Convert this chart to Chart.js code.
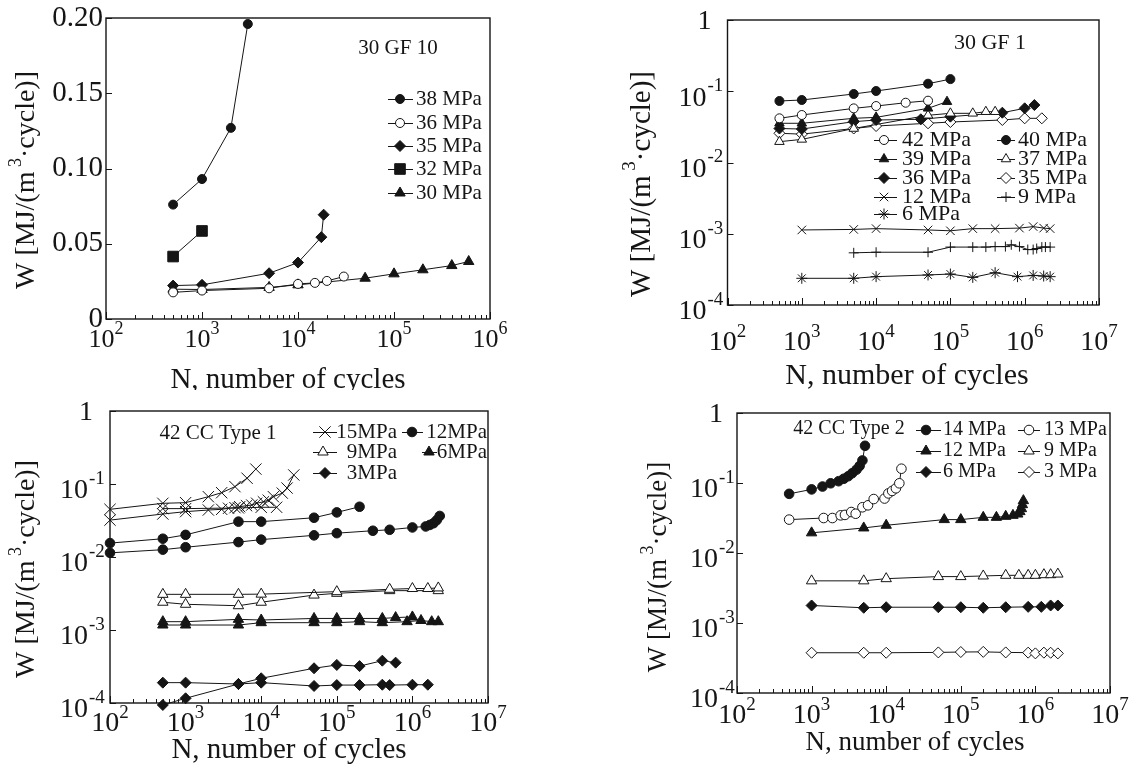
<!DOCTYPE html>
<html>
<head>
<meta charset="utf-8">
<title>Hysteresis energy vs cycles</title>
<script src="https://cdn.jsdelivr.net/npm/chart.js@4.4.1/dist/chart.umd.min.js"></script>
<style>
  html, body { margin: 0; padding: 0; background: #fff; }
  #wrap { position: relative; width: 1132px; height: 775px; overflow: hidden; }
  #wrap canvas { position: absolute; }
</style>
</head>
<body>
<div id="wrap">
  <canvas id="gf10" width="566" height="390" style="left:0;top:0"></canvas>
  <canvas id="gf1" width="566" height="390" style="left:566px;top:0"></canvas>
  <canvas id="cc1" width="566" height="385" style="left:0;top:390px"></canvas>
  <canvas id="cc2" width="566" height="385" style="left:566px;top:390px"></canvas>
</div>
<script>
const SERIF = '"Liberation Serif", "Times New Roman", serif';
const INK = '#151515';

// tick labels
const gf10YTicks = [0, 0.05, 0.10, 0.15, 0.20];
const gf10YText = ['0', '0.05', '0.10', '0.15', '0.20'];
const gf10XExp = [2, 3, 4, 5, 6];
const logXExp = [2, 3, 4, 5, 6, 7];
const logYExp = [0, -1, -2, -3, -4];

// ---- 30 GF 10 ----
const gf10_N38 = [500, 1000, 2000, 3000];
const gf10_W38 = [0.076, 0.093, 0.127, 0.196];
const gf10_N36 = [500, 1000, 5000, 10000, 15000, 20000, 30000];
const gf10_W36 = [0.0177, 0.0189, 0.0204, 0.0233, 0.024, 0.0253, 0.0282];
const gf10_N35 = [500, 1000, 5000, 10000, 17500, 18500];
const gf10_W35 = [0.0222, 0.0227, 0.0304, 0.0375, 0.0544, 0.0693];
const gf10_N32 = [500, 1000];
const gf10_W32 = [0.0415, 0.0585];
const gf10_N30 = [500, 1000, 5000, 10000, 50000, 100000, 200000, 400000, 600000];
const gf10_W30 = [0.0198, 0.0196, 0.021, 0.0227, 0.0271, 0.030, 0.0327, 0.0355, 0.0382];

// ---- 30 GF 1 ----
const gf1_N42 = [500, 1000, 5000, 10000, 25000, 50000];
const gf1_W42 = [0.0417, 0.0464, 0.0575, 0.062, 0.069, 0.0737];
const gf1_N40 = [500, 1000, 5000, 10000, 50000, 100000];
const gf1_W40 = [0.073, 0.0754, 0.0915, 0.1008, 0.1276, 0.148];
const gf1_N39 = [500, 1000, 5000, 10000, 50000, 90000];
const gf1_W39 = [0.0355, 0.0355, 0.0417, 0.043, 0.0576, 0.0714];
const gf1_N37 = [500, 1000, 5000, 50000, 100000, 200000, 300000, 400000];
const gf1_W37 = [0.0196, 0.0211, 0.030, 0.046, 0.049, 0.049, 0.0516, 0.0516];
const gf1_N36 = [500, 1000, 5000, 10000, 40000, 100000, 500000, 1000000, 1350000];
const gf1_W36 = [0.030, 0.0295, 0.0374, 0.0395, 0.0404, 0.044, 0.050, 0.0576, 0.064];
const gf1_N35 = [500, 1000, 5000, 10000, 50000, 100000, 500000, 1000000, 1700000];
const gf1_W35 = [0.0257, 0.025, 0.030, 0.0325, 0.0355, 0.037, 0.0395, 0.0417, 0.0417];
const gf1_N12 = [1000, 5000, 10000, 50000, 100000, 200000, 400000, 850000, 1300000, 1800000, 2200000];
const gf1_W12 = [0.00113, 0.00115, 0.00118, 0.00113, 0.0011, 0.00118, 0.00118, 0.0012, 0.00126, 0.0012, 0.00118];
const gf1_N9 = [5000, 10000, 50000, 100000, 200000, 300000, 400000, 550000, 660000, 850000, 1100000, 1300000, 1450000, 1700000, 1900000, 2200000];
const gf1_W9 = [0.00054, 0.00055, 0.00055, 0.00065, 0.00065, 0.00065, 0.00066, 0.00066, 0.0007, 0.00066, 0.0006, 0.0006, 0.00062, 0.00065, 0.00065, 0.00065];
const gf1_N6 = [1000, 5000, 10000, 50000, 100000, 200000, 400000, 800000, 1300000, 1800000, 2200000];
const gf1_W6 = [0.000237, 0.000237, 0.00025, 0.000264, 0.000272, 0.000244, 0.000284, 0.00025, 0.00026, 0.000255, 0.00025];

// ---- 42 CC Type 1 (two or three specimens per stress level) ----
const cc1_N15a = [100, 500, 1000, 2000, 3000, 4500, 6500, 8500];
const cc1_W15a = [0.045, 0.0544, 0.0555, 0.067, 0.076, 0.092, 0.12, 0.16];
const cc1_N15b = [100, 500, 1000, 2000, 3000, 3700, 4500, 5200, 6400, 7500, 8700, 10700, 12400, 14500, 19000, 22000, 27000];
const cc1_W15b = [0.032, 0.0388, 0.0418, 0.044, 0.045, 0.0465, 0.0474, 0.0489, 0.0505, 0.0515, 0.0545, 0.057, 0.06, 0.067, 0.075, 0.088, 0.133];
const cc1_N15c = [500, 1000, 5000, 10000, 16000];
const cc1_W15c = [0.046, 0.046, 0.047, 0.048, 0.048];
const cc1_N12a = [100, 500, 1000, 5000, 10000, 50000, 100000, 200000];
const cc1_W12a = [0.0155, 0.0178, 0.0201, 0.0305, 0.0305, 0.0345, 0.0408, 0.0488];
const cc1_N12b = [100, 500, 1000, 5000, 10000, 50000, 100000, 300000, 500000, 1000000, 1500000, 1700000, 1900000, 2100000, 2300000];
const cc1_W12b = [0.0114, 0.0126, 0.0136, 0.016, 0.0173, 0.0198, 0.0212, 0.0229, 0.0236, 0.0254, 0.0262, 0.0275, 0.029, 0.032, 0.0365];
const cc1_N9a = [500, 1000, 5000, 10000, 100000, 500000, 1000000, 1600000, 2200000];
const cc1_W9a = [0.00308, 0.00308, 0.00308, 0.0031, 0.00335, 0.00361, 0.0037, 0.0037, 0.00377];
const cc1_N9b = [500, 1000, 5000, 10000, 50000, 100000, 500000, 2200000];
const cc1_W9b = [0.0024, 0.00225, 0.00215, 0.0024, 0.00301, 0.00318, 0.00346, 0.00346];
const cc1_N6a = [500, 1000, 5000, 10000, 50000, 100000, 200000, 400000, 600000, 1000000];
const cc1_W6a = [0.0013, 0.0013, 0.0014, 0.00137, 0.00144, 0.00144, 0.00144, 0.00144, 0.00148, 0.00151];
const cc1_N6b = [500, 1000, 5000, 10000, 50000, 100000, 200000, 400000, 850000, 1300000, 1800000, 2200000];
const cc1_W6b = [0.00117, 0.00117, 0.00117, 0.00126, 0.00126, 0.00126, 0.0013, 0.00126, 0.0013, 0.00135, 0.0013, 0.0013];
const cc1_N3a = [500, 1000, 5000, 10000, 50000, 100000, 200000, 400000, 500000, 1000000, 1600000];
const cc1_W3a = [0.00019, 0.00019, 0.000182, 0.00019, 0.000171, 0.000176, 0.000176, 0.000178, 0.000176, 0.000178, 0.000178];
const cc1_N3b = [500, 1000, 5000, 10000, 50000, 100000, 200000, 400000, 600000];
const cc1_W3b = [0.000094, 0.000116, 0.000182, 0.000218, 0.000299, 0.000332, 0.00032, 0.00038, 0.000357];

// ---- 42 CC Type 2 ----
const cc2_N14 = [500, 1000, 1400, 1800, 2300, 2700, 3100, 3500, 4000, 4400, 4800, 5200];
const cc2_W14 = [0.07, 0.081, 0.089, 0.099, 0.106, 0.115, 0.125, 0.138, 0.155, 0.175, 0.21, 0.34];
const cc2_N13 = [500, 1450, 1900, 2450, 2800, 3400, 3900, 4800, 5700, 6800, 9500, 10700, 12000, 13500, 15000, 16000];
const cc2_W13 = [0.030, 0.0316, 0.0316, 0.0345, 0.035, 0.0385, 0.0364, 0.045, 0.048, 0.059, 0.06, 0.071, 0.077, 0.084, 0.099, 0.16];
const cc2_N12 = [1000, 5000, 10000, 60000, 100000, 200000, 300000, 400000, 500000, 580000, 620000, 650000, 670000, 690000];
const cc2_W12 = [0.0194, 0.0228, 0.0249, 0.030, 0.030, 0.0323, 0.0323, 0.0334, 0.0345, 0.036, 0.039, 0.043, 0.049, 0.056];
const cc2_N9 = [1000, 5000, 10000, 50000, 100000, 200000, 400000, 600000, 800000, 1000000, 1300000, 1600000, 2000000];
const cc2_W9 = [0.0040, 0.0040, 0.0043, 0.0046, 0.0046, 0.0047, 0.0048, 0.0048, 0.0048, 0.0048, 0.0049, 0.0049, 0.0050];
const cc2_N6 = [1000, 5000, 10000, 50000, 100000, 200000, 400000, 800000, 1200000, 1600000, 2000000];
const cc2_W6 = [0.00178, 0.00165, 0.00168, 0.00168, 0.00168, 0.00165, 0.00168, 0.0017, 0.0017, 0.00178, 0.00178];
const cc2_N3 = [1000, 5000, 10000, 50000, 100000, 200000, 400000, 800000, 1000000, 1300000, 1600000, 2000000];
const cc2_W3 = [0.000376, 0.000376, 0.000376, 0.00038, 0.000385, 0.000387, 0.00038, 0.000377, 0.000368, 0.000377, 0.000376, 0.000368];

const ser = (label, N, W, style, fill, r) => ({ label, N, W, style, fill, r });

const panels = [
  {
    id: 'gf10', left: 0, top: 0, w: 566, h: 390, box: [106, 18, 490, 319],
    xMin: 1e2, xMax: 1e6, xExp: gf10XExp, xLabSize: 26, xLabDy: 21,
    yType: 'linear', yMin: 0, yMax: 0.2,
    xTitle: [288, 380, 29], yTitle: [27, 180, 28], note: ['30 GF 10', 398, 48, 21],
    series: [
      ser('38 MPa', gf10_N38, gf10_W38, 'circle', true, 4.5),
      ser('36 MPa', gf10_N36, gf10_W36, 'circle', false, 4.5),
      ser('35 MPa', gf10_N35, gf10_W35, 'rectRot', true, 5.5),
      ser('32 MPa', gf10_N32, gf10_W32, 'rect', true, 7.5),
      ser('30 MPa', gf10_N30, gf10_W30, 'triangle', true, 6)
    ],
    legendSize: 21,
    legend: [
      { i: 0, y: 99, mx: 400, l1: 388, l2: 413, tx: 416, al: 'left' },
      { i: 1, y: 123, mx: 400, l1: 388, l2: 413, tx: 416, al: 'left' },
      { i: 2, y: 146, mx: 400, l1: 388, l2: 413, tx: 416, al: 'left' },
      { i: 3, y: 169, mx: 400, l1: 388, l2: 413, tx: 416, al: 'left' },
      { i: 4, y: 193, mx: 400, l1: 388, l2: 413, tx: 416, al: 'left' }
    ]
  },
  {
    id: 'gf1', left: 566, top: 0, w: 566, h: 390, box: [727.5, 20, 1099, 305],
    xMin: 1e2, xMax: 1e7, xExp: logXExp, xLabSize: 28, xLabDy: 38,
    yType: 'logarithmic', yMin: 1e-4, yMax: 1, yGap: 21,
    xTitle: [907, 376, 30], yTitle: [642, 184, 29], note: ['30 GF 1', 990, 43, 22],
    series: [
      ser('42 MPa', gf1_N42, gf1_W42, 'circle', false, 4.5),
      ser('40 MPa', gf1_N40, gf1_W40, 'circle', true, 4.5),
      ser('39 MPa', gf1_N39, gf1_W39, 'triangle', true, 5.5),
      ser('37 MPa', gf1_N37, gf1_W37, 'triangle', false, 5.5),
      ser('36 MPa', gf1_N36, gf1_W36, 'rectRot', true, 5.5),
      ser('35 MPa', gf1_N35, gf1_W35, 'rectRot', false, 5.5),
      ser('12 MPa', gf1_N12, gf1_W12, 'crossRot', false, 6),
      ser('9 MPa', gf1_N9, gf1_W9, 'cross', false, 5),
      ser('6 MPa', gf1_N6, gf1_W6, 'star', false, 5.5)
    ],
    legendSize: 22,
    legend: [
      { i: 0, y: 140, mx: 884, l1: 874, l2: 897, tx: 902, al: 'left' },
      { i: 2, y: 159, mx: 884, l1: 874, l2: 897, tx: 902, al: 'left' },
      { i: 4, y: 178, mx: 884, l1: 874, l2: 897, tx: 902, al: 'left' },
      { i: 6, y: 197, mx: 884, l1: 874, l2: 897, tx: 902, al: 'left' },
      { i: 8, y: 214, mx: 884, l1: 874, l2: 897, tx: 902, al: 'left' },
      { i: 1, y: 140, mx: 1006, l1: 997, l2: 1015, tx: 1018, al: 'left' },
      { i: 3, y: 159, mx: 1006, l1: 997, l2: 1015, tx: 1018, al: 'left' },
      { i: 5, y: 178, mx: 1006, l1: 997, l2: 1015, tx: 1018, al: 'left' },
      { i: 7, y: 197, mx: 1006, l1: 997, l2: 1015, tx: 1018, al: 'left' }
    ]
  },
  {
    id: 'cc1', left: 0, top: 390, w: 566, h: 385, box: [110, 411, 488, 703],
    xMin: 1e2, xMax: 1e7, xExp: logXExp, xLabSize: 28, xLabDy: 21,
    yType: 'logarithmic', yMin: 1e-4, yMax: 1, yGap: 22,
    xTitle: [289, 750, 29], yTitle: [27, 569, 28], note: ['42 CC Type 1', 218, 433, 21],
    series: [
      ser('15MPa', cc1_N15a, cc1_W15a, 'crossRot', false, 8),
      ser('15MPa', cc1_N15b, cc1_W15b, 'crossRot', false, 8),
      ser('15MPa', cc1_N15c, cc1_W15c, 'crossRot', false, 8),
      ser('12MPa', cc1_N12a, cc1_W12a, 'circle', true, 4.8),
      ser('12MPa', cc1_N12b, cc1_W12b, 'circle', true, 4.8),
      ser('9MPa', cc1_N9a, cc1_W9a, 'triangle', false, 6),
      ser('9MPa', cc1_N9b, cc1_W9b, 'triangle', false, 6),
      ser('6MPa', cc1_N6a, cc1_W6a, 'triangle', true, 6),
      ser('6MPa', cc1_N6b, cc1_W6b, 'triangle', true, 6),
      ser('3MPa', cc1_N3a, cc1_W3a, 'rectRot', true, 5.5),
      ser('3MPa', cc1_N3b, cc1_W3b, 'rectRot', true, 5.5)
    ],
    legendSize: 21,
    legend: [
      { i: 0, y: 432, mx: 325, l1: 313, l2: 337, tx: 397, al: 'right' },
      { i: 5, y: 452, mx: 323, l1: 313, l2: 337, tx: 397, al: 'right' },
      { i: 9, y: 473, mx: 325, l1: 313, l2: 337, tx: 397, al: 'right' },
      { i: 3, y: 432, mx: 412, l1: 402, l2: 423, tx: 487, al: 'right' },
      { i: 7, y: 452, mx: 429, l1: 422, l2: 437, tx: 487, al: 'right' }
    ]
  },
  {
    id: 'cc2', left: 566, top: 390, w: 566, h: 385, box: [737, 413, 1110, 693],
    xMin: 1e2, xMax: 1e7, xExp: logXExp, xLabSize: 28, xLabDy: 23,
    yType: 'logarithmic', yMin: 1e-4, yMax: 1, yGap: 19,
    xTitle: [915, 743, 27], yTitle: [659, 567, 27], note: ['42 CC Type 2', 849, 429, 20],
    series: [
      ser('14 MPa', cc2_N14, cc2_W14, 'circle', true, 4.8),
      ser('13 MPa', cc2_N13, cc2_W13, 'circle', false, 4.8),
      ser('12 MPa', cc2_N12, cc2_W12, 'triangle', true, 6),
      ser('9 MPa', cc2_N9, cc2_W9, 'triangle', false, 6),
      ser('6 MPa', cc2_N6, cc2_W6, 'rectRot', true, 5.5),
      ser('3 MPa', cc2_N3, cc2_W3, 'rectRot', false, 5.5)
    ],
    legendSize: 20,
    legend: [
      { i: 0, y: 430, mx: 926, l1: 916, l2: 941, tx: 943, al: 'left' },
      { i: 2, y: 451, mx: 926, l1: 916, l2: 941, tx: 943, al: 'left' },
      { i: 4, y: 472, mx: 926, l1: 916, l2: 941, tx: 943, al: 'left' },
      { i: 1, y: 430, mx: 1029, l1: 1018, l2: 1040, tx: 1044, al: 'left' },
      { i: 3, y: 451, mx: 1029, l1: 1018, l2: 1040, tx: 1044, al: 'left' },
      { i: 5, y: 472, mx: 1029, l1: 1018, l2: 1040, tx: 1044, al: 'left' }
    ]
  }
];

// text made of runs: [text, size, dy]; y is the middle of the base run
function drawRich(ctx, runs, x, y, align) {
  let total = 0;
  runs.forEach(r => { ctx.font = r[1] + 'px ' + SERIF; total += ctx.measureText(r[0]).width; });
  let cx = align === 'center' ? x - total / 2 : align === 'right' ? x - total : x;
  ctx.textAlign = 'left';
  ctx.textBaseline = 'middle';
  runs.forEach(r => {
    ctx.font = r[1] + 'px ' + SERIF;
    ctx.fillText(r[0], cx, y + r[2]);
    cx += ctx.measureText(r[0]).width;
  });
}

function drawMarker(ctx, s, x, y) {
  ctx.fillStyle = s.fill ? INK : '#fff';
  ctx.strokeStyle = INK;
  ctx.lineWidth = 1;
  Chart.helpers.drawPoint(ctx, { pointStyle: s.style, radius: s.r, borderWidth: 1, rotation: 0 }, x, y);
}

function makeFrame(p) {
  return {
    id: 'frame_' + p.id,
    afterDatasetsDraw(chart) {
      const ctx = chart.ctx, a = chart.chartArea;
      const xs = chart.scales.x, ys = chart.scales.y;
      ctx.save();
      ctx.fillStyle = INK;
      ctx.strokeStyle = INK;

      // inward ticks on the N axis, decades plus 2..9 minors
      ctx.lineWidth = 1;
      ctx.beginPath();
      const e0 = Math.log10(p.xMin), e1 = Math.log10(p.xMax);
      for (let e = e0; e <= e1; e++) {
        for (let m = 1; m < 10; m++) {
          if (e === e1 && m > 1) break;
          const px = Math.round(xs.getPixelForValue(m * Math.pow(10, e))) + 0.5;
          ctx.moveTo(px, a.bottom);
          ctx.lineTo(px, a.bottom - (m === 1 ? 7 : 4));
        }
      }
      // W axis ticks
      const yVals = p.yType === 'linear' ? gf10YTicks : logYExp.map(k => Math.pow(10, k));
      yVals.forEach(v => {
        const py = Math.round(ys.getPixelForValue(v)) + 0.5;
        ctx.moveTo(a.left, py);
        ctx.lineTo(a.left + 6, py);
      });
      ctx.stroke();

      // frame
      ctx.lineWidth = 1.4;
      ctx.strokeRect(a.left, a.top, a.right - a.left, a.bottom - a.top);

      // N tick labels: 10 with raised exponent
      p.xExp.forEach(k => {
        const px = xs.getPixelForValue(Math.pow(10, k));
        drawRich(ctx, [['10', p.xLabSize, 0], [String(k), Math.round(p.xLabSize * 0.68), -11]],
          px, a.bottom + p.xLabDy, 'center');
      });

      // W tick labels
      if (p.yType === 'linear') {
        gf10YTicks.forEach((v, i) => {
          drawRich(ctx, [[gf10YText[i], 29, 0]], a.left - 3, ys.getPixelForValue(v), 'right');
        });
      } else {
        logYExp.forEach(k => {
          const py = ys.getPixelForValue(Math.pow(10, k));
          if (k === 0) {
            drawRich(ctx, [['1', 28, 0]], a.left - p.yGap + 5, py + 2, 'right');
            return;
          }
          const bx = a.left - p.yGap;
          drawRich(ctx, [['10', 28, 0]], bx, py + 7, 'right');
          drawRich(ctx, [['-' + Math.abs(k), 19, 0]], bx + 1, py - 5, 'left');
        });
      }

      // the rest is placed in page coordinates
      ctx.translate(-p.left, -p.top);

      const [tx, ty, ts] = p.xTitle;
      drawRich(ctx, [['N, number of cycles', ts, 0]], tx, ty, 'center');

      const [yx, yy, ysz] = p.yTitle;
      ctx.save();
      ctx.translate(yx, yy);
      ctx.rotate(-Math.PI / 2);
      drawRich(ctx, [['W [MJ/(m', ysz, 0], [' 3', Math.round(ysz * 0.66), -ysz * 0.4], ['·cycle)]', ysz, 0]], 0, 0, 'center');
      ctx.restore();

      const [nt, nx, ny, ns] = p.note;
      drawRich(ctx, [[nt, ns, 0]], nx, ny, 'center');

      // legend entries: short line, marker, label
      p.legend.forEach(it => {
        const s = p.series[it.i];
        ctx.strokeStyle = INK;
        ctx.lineWidth = 1;
        ctx.beginPath();
        ctx.moveTo(it.l1, it.y + 0.5);
        ctx.lineTo(it.l2, it.y + 0.5);
        ctx.stroke();
        drawMarker(ctx, s, it.mx, it.y);
        ctx.fillStyle = INK;
        drawRich(ctx, [[s.label, p.legendSize, 0]], it.tx, it.y, it.al);
      });
      ctx.restore();
    }
  };
}

panels.forEach(p => {
  const datasets = p.series.map(s => ({
    label: s.label,
    data: s.N.map((n, i) => ({ x: n, y: s.W[i] })),
    showLine: true,
    borderColor: INK,
    borderWidth: 1,
    pointStyle: s.style,
    pointRadius: s.r,
    pointBorderWidth: 1,
    pointBorderColor: INK,
    pointBackgroundColor: s.fill ? INK : '#fff',
    backgroundColor: s.fill ? INK : '#fff',
    clip: false
  }));
  const [bl, bt, br, bb] = p.box;
  new Chart(document.getElementById(p.id), {
    type: 'scatter',
    data: { datasets },
    options: {
      responsive: false,
      animation: false,
      events: [],
      layout: { padding: { left: 0, top: bt - p.top, right: p.left + p.w - br, bottom: 0 } },
      plugins: { legend: { display: false }, tooltip: { enabled: false } },
      scales: {
        x: {
          type: 'logarithmic', min: p.xMin, max: p.xMax,
          ticks: { display: false }, grid: { display: false }, border: { display: false },
          afterFit: s => { s.height = p.top + p.h - bb; }
        },
        y: {
          type: p.yType, min: p.yMin, max: p.yMax,
          ticks: { display: false }, grid: { display: false }, border: { display: false },
          afterFit: s => { s.width = bl - p.left; }
        }
      }
    },
    plugins: [makeFrame(p)]
  });
});
</script>
</body>
</html>
